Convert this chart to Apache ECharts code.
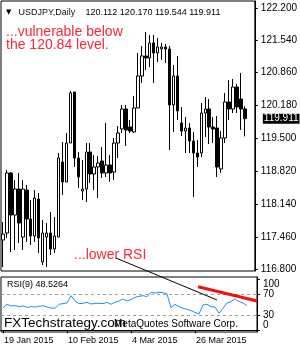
<!DOCTYPE html>
<html><head><meta charset="utf-8">
<script src="https://cdn.jsdelivr.net/npm/echarts@6/dist/echarts.min.js"></script>
<style>html,body{margin:0;padding:0;background:#fff}#c{width:300px;height:350px}</style>
</head><body><div id="c"></div>
<script>
const dates = ['19 Jan 2015','20 Jan 2015','21 Jan 2015','22 Jan 2015','23 Jan 2015',
'26 Jan 2015','27 Jan 2015','28 Jan 2015','29 Jan 2015','30 Jan 2015',
'2 Feb 2015','3 Feb 2015','4 Feb 2015','5 Feb 2015','6 Feb 2015',
'9 Feb 2015','10 Feb 2015','11 Feb 2015','12 Feb 2015','13 Feb 2015',
'16 Feb 2015','17 Feb 2015','18 Feb 2015','19 Feb 2015','20 Feb 2015',
'23 Feb 2015','24 Feb 2015','25 Feb 2015','26 Feb 2015','27 Feb 2015',
'2 Mar 2015','3 Mar 2015','4 Mar 2015','5 Mar 2015','6 Mar 2015',
'9 Mar 2015','10 Mar 2015','11 Mar 2015','12 Mar 2015','13 Mar 2015',
'16 Mar 2015','17 Mar 2015','18 Mar 2015','19 Mar 2015','20 Mar 2015',
'23 Mar 2015','24 Mar 2015','25 Mar 2015','26 Mar 2015','27 Mar 2015',
'30 Mar 2015','31 Mar 2015','1 Apr 2015','2 Apr 2015','3 Apr 2015',
'6 Apr 2015','7 Apr 2015','8 Apr 2015','9 Apr 2015','10 Apr 2015',
'13 Apr 2015','14 Apr 2015'];
const shiftSlots = ['', ''];

const opens = [117.403,117.548,118.788,117.920,118.457,117.465,118.436,117.837,117.486,118.250,
116.949,117.465,117.548,117.217,117.465,119.015,118.602,119.407,120.461,119.098,
118.416,118.457,119.222,118.767,118.912,119.036,118.788,118.953,118.808,119.407,
119.697,120.110,119.738,119.635,120.131,120.792,121.205,121.164,121.474,121.267,
121.350,121.391,121.350,120.193,120.792,119.821,119.655,119.717,119.449,119.201,
119.201,120.027,120.110,119.738,119.717,118.870,119.511,120.255,120.110,120.564,
120.317,120.112];
const closes = [117.527,118.788,117.920,118.457,117.755,118.457,117.837,117.486,118.271,117.445,
117.548,117.548,117.217,117.486,119.098,118.602,119.407,120.441,119.098,118.705,
118.457,119.222,118.767,118.912,118.994,118.788,118.953,118.788,119.407,119.614,
120.110,119.676,119.655,120.131,120.792,121.205,121.164,121.474,121.267,121.391,
121.391,121.350,120.193,120.792,120.069,119.655,119.717,119.449,119.201,119.118,
120.027,120.110,119.738,119.697,118.912,119.511,120.255,120.110,120.564,120.151,
120.110,119.911];
const lows = [116.845,117.445,117.155,117.197,117.341,117.197,117.362,117.300,117.362,117.135,
116.887,116.845,117.093,117.135,117.465,118.333,118.602,119.407,118.912,118.478,
118.230,118.188,118.581,118.436,118.271,118.684,118.705,118.602,118.643,119.098,
119.614,119.345,119.614,119.614,120.131,120.647,120.916,120.978,120.647,121.081,
121.122,121.060,119.263,119.635,119.883,119.552,119.201,119.201,118.292,118.912,
119.118,119.531,119.387,119.407,118.705,118.788,119.407,119.883,120.027,120.027,
119.676,119.544];
const highs = [117.775,118.850,118.808,118.643,118.788,118.643,118.540,118.230,118.436,118.374,
117.817,117.755,117.982,117.879,119.201,119.428,119.614,120.482,120.461,119.222,
119.056,119.407,119.407,119.160,119.139,119.325,119.821,119.160,119.511,119.759,
120.193,120.193,119.883,120.379,121.267,121.412,121.701,121.639,121.639,121.577,
121.474,121.453,121.412,121.019,121.205,120.151,119.945,119.821,119.635,119.469,
120.234,120.358,120.317,119.945,119.965,119.655,120.441,120.709,120.730,120.626,
120.854,120.170];
const rsi9 = [44.5,51.1,47.8,48.4,46.5,47.8,45.2,46.5,45.8,47.1,
48.4,45.8,43.8,43.2,51.1,52.4,53.7,68.1,57.6,52.4,
53.0,55.0,51.7,53.0,53.0,52.4,55.0,51.1,55.0,57.6,
61.6,57.6,60.3,64.8,66.8,68.1,66.2,74.7,73.4,74.7,
74.0,71.4,44.5,51.1,46.5,43.2,41.2,38.6,35.3,32.0,
49.8,51.1,46.5,45.8,33.4,43.2,53.7,56.3,61.6,56.3,
53.7,48.5];
const priceTicks = [116.8,117.46,118.14,118.82,119.5,120.18,120.86,121.54,122.2];
const rsiTicks = [0,30,70,100];
const rsiLevels = [70,30];
const dateLabelIdx = [0,16,32,48];
const lastPrice = 119.911;

const FONT = "'Liberation Sans', Arial, sans-serif";
const categories = dates.concat(shiftSlots);
const ohlc = opens.map((o,i)=>[o, closes[i], lows[i], highs[i]]);

const chart = echarts.init(document.getElementById('c'), null, {renderer:'canvas'});
chart.setOption({
  animation:false,
  backgroundColor:'#fff',
  grid:[
    {left:1, top:1, width:256, height:270, show:true, borderColor:'#000', borderWidth:1, backgroundColor:'#fff'},
    {left:1, top:277, width:256, height:55, show:true, borderColor:'#000', borderWidth:1, backgroundColor:'#fff'}
  ],
  xAxis:[
    {type:'category', gridIndex:0, data:categories, boundaryGap:true,
     axisLine:{show:false}, axisTick:{show:false}, axisLabel:{show:false}, splitLine:{show:false}},
    {type:'category', gridIndex:1, data:categories, boundaryGap:true,
     axisLine:{show:true, lineStyle:{color:'#000'}},
     axisTick:{show:true, alignWithLabel:true, length:3, lineStyle:{color:'#000'},
       interval:(i)=>dateLabelIdx.indexOf(i)>=0},
     axisLabel:{show:true, interval:(i)=>dateLabelIdx.indexOf(i)>=0, align:'left', margin:4,
       fontFamily:FONT, fontSize:9, color:'#000', padding:[0,0,0,1]},
     splitLine:{show:false}}
  ],
  yAxis:[
    {type:'value', gridIndex:0, position:'right', min:116.763, max:122.341,
     axisLine:{show:true, lineStyle:{color:'#000'}},
     axisTick:{show:true, length:3, customValues:priceTicks, lineStyle:{color:'#000'}},
     axisLabel:{show:true, customValues:priceTicks, margin:6, fontFamily:FONT, fontSize:10, color:'#000',
       formatter:(v)=>v.toFixed(3)},
     splitLine:{show:false}},
    {type:'value', gridIndex:1, position:'right', min:-3.4, max:104.8,
     axisLine:{show:true, lineStyle:{color:'#000'}},
     axisTick:{show:true, length:3, customValues:rsiTicks, lineStyle:{color:'#000'}},
     axisLabel:{show:true, customValues:rsiTicks, margin:6, fontFamily:FONT, fontSize:10, color:'#000',
       verticalAlignMinLabel:'bottom', verticalAlignMaxLabel:'top'},
     splitLine:{show:false}}
  ],
  series:[
    {type:'candlestick', xAxisIndex:0, yAxisIndex:0, data:ohlc, barWidth:3,
     itemStyle:{color:'#fff', color0:'#000', borderColor:'#000', borderColor0:'#000', borderWidth:1},
     markLine:{silent:true, symbol:['none','none'], animation:false,
       lineStyle:{color:'rgba(0,0,0,0)', width:1},
       label:{show:true, position:'end', distance:8, formatter:()=>lastPrice.toFixed(3),
         backgroundColor:'#000', color:'#fff', fontFamily:FONT, fontSize:10, padding:[0,1,0,1], lineHeight:10},
       data:[{yAxis:lastPrice}]}},
    {type:'line', xAxisIndex:1, yAxisIndex:1, data:rsi9, showSymbol:false, symbol:'none',
     lineStyle:{color:'#1e90ff', width:1},
     markLine:{silent:true, symbol:['none','none'], animation:false,
       lineStyle:{color:'#a0a0a0', type:[3,3], width:1}, label:{show:false},
       data:rsiLevels.map(v=>({yAxis:v}))}}
  ]
});

function pt(gridIndex, idx, val){
  const a = chart.convertToPixel({gridIndex:gridIndex}, [0, val]);
  const b = chart.convertToPixel({gridIndex:gridIndex}, [1, val]);
  return [a[0] + (b[0]-a[0])*idx, a[1]];
}
const blackA = pt(0, 28.5, 117.03), blackB = pt(1, 53.5, 59.6);
const redA = pt(1, 48.8, 85.7), redB = pt(1, 63.5, 57.6);

chart.setOption({
  graphic:[
    {type:'text', x:6, y:12.5, style:{text:'▼', font:"7px 'DejaVu Sans'", fill:'#000', verticalAlign:'middle'}, z:50},
    {type:'text', x:18.5, y:12.5, style:{text:'USDJPY,Daily', font:"9px "+FONT, fill:'#111', verticalAlign:'middle'}, z:50},
    {type:'text', x:85.5, y:12.5, style:{text:'120.112 120.170 119.544 119.911', font:"9px "+FONT, fill:'#000', verticalAlign:'middle'}, z:50},
    {type:'text', x:6, y:31.7, style:{text:'...vulnerable below', font:"14px "+FONT, fill:'#f8283a', verticalAlign:'middle'}, z:50},
    {type:'text', x:6, y:45.3, style:{text:'the 120.84 level.', font:"14px "+FONT, fill:'#f8283a', verticalAlign:'middle'}, z:50},
    {type:'text', x:74, y:255, style:{text:'...lower RSI', font:"14px "+FONT, fill:'#f8283a', verticalAlign:'middle'}, z:50},
    {type:'text', x:7, y:285, style:{text:'RSI(9) 48.5264', font:"9px "+FONT, fill:'#000', verticalAlign:'middle'}, z:50},
    {type:'text', x:114, y:324, style:{text:'MetaQuotes Software Corp.', font:"10px "+FONT, fill:'#000', verticalAlign:'middle'}, z:50},
    {type:'text', x:4, y:323, style:{text:'FXTechstrategy.com', font:"13.5px "+FONT, fill:'#000', verticalAlign:'middle'}, z:51},
    {type:'line', shape:{x1:blackA[0], y1:blackA[1], x2:blackB[0], y2:blackB[1]}, style:{stroke:'#000', lineWidth:1}, z:60},
    {type:'line', shape:{x1:redA[0], y1:redA[1], x2:redB[0], y2:redB[1]}, style:{stroke:'#f01010', lineWidth:3}, z:60}
  ]
});
</script></body></html>
